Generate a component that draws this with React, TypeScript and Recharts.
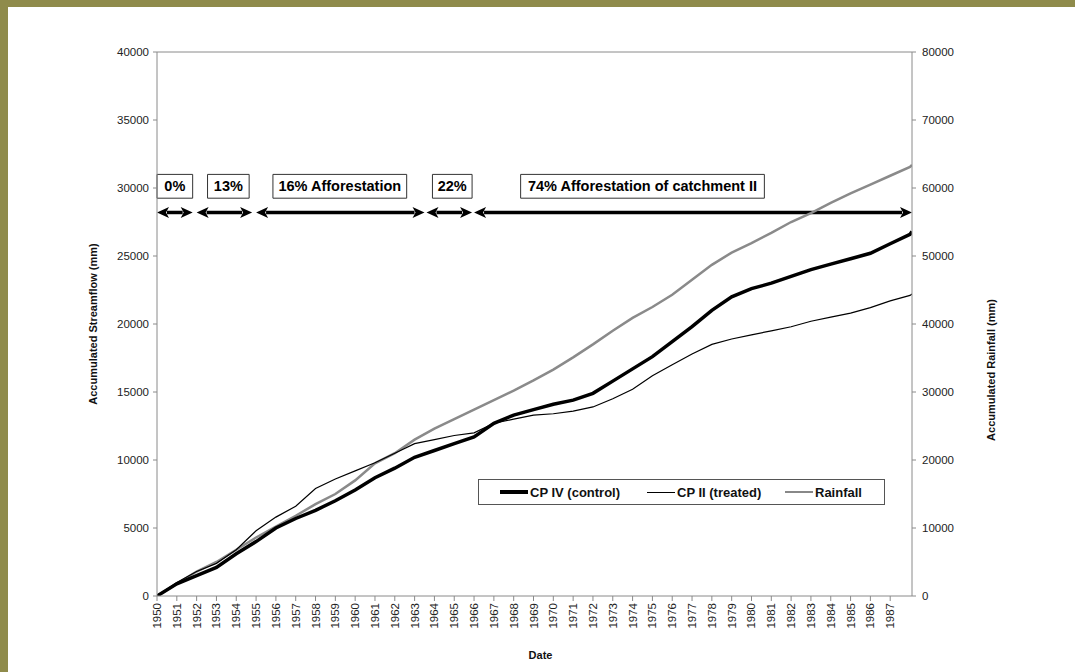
import React from 'react';
import {
  ComposedChart, Line, XAxis, YAxis, ReferenceLine, ReferenceArea, Legend,
} from 'recharts';

// ---- data ----
const YEARS = [1950, 1951, 1952, 1953, 1954, 1955, 1956, 1957, 1958, 1959, 1960, 1961, 1962, 1963, 1964, 1965, 1966, 1967, 1968, 1969, 1970, 1971, 1972, 1973, 1974, 1975, 1976, 1977, 1978, 1979, 1980, 1981, 1982, 1983, 1984, 1985, 1986, 1987, 1988, 1988.1];
const CP_IV = [0, 900, 1500, 2100, 3100, 4000, 5000, 5700, 6300, 7000, 7800, 8700, 9400, 10200, 10700, 11200, 11700, 12700, 13300, 13700, 14100, 14400, 14900, 15800, 16700, 17600, 18700, 19800, 21000, 22000, 22600, 23000, 23500, 24000, 24400, 24800, 25200, 25900, 26600, 26800];
const CP_II = [0, 1000, 1800, 2400, 3400, 4800, 5800, 6600, 7900, 8600, 9200, 9800, 10500, 11200, 11500, 11800, 12000, 12700, 13000, 13300, 13400, 13600, 13900, 14500, 15200, 16200, 17000, 17800, 18500, 18900, 19200, 19500, 19800, 20200, 20500, 20800, 21200, 21700, 22100, 22200];
const RAINFALL = [0, 1800, 3600, 5000, 6800, 8600, 10200, 11800, 13500, 15000, 17000, 19500, 21000, 23000, 24600, 26000, 27400, 28800, 30200, 31700, 33300, 35100, 37000, 39000, 40900, 42500, 44300, 46500, 48700, 50500, 51900, 53400, 55000, 56300, 57800, 59200, 60500, 61800, 63100, 63400];

const X_TICKS = [1950, 1951, 1952, 1953, 1954, 1955, 1956, 1957, 1958, 1959, 1960, 1961, 1962, 1963, 1964, 1965, 1966, 1967, 1968, 1969, 1970, 1971, 1972, 1973, 1974, 1975, 1976, 1977, 1978, 1979, 1980, 1981, 1982, 1983, 1984, 1985, 1986, 1987];
const LEFT_TICKS = [0, 5000, 10000, 15000, 20000, 25000, 30000, 35000, 40000];
const RIGHT_TICKS = [0, 10000, 20000, 30000, 40000, 50000, 60000, 70000, 80000];

// afforestation periods (double arrows) and their label boxes
const PERIOD_START = [1950, 1952.0, 1955.0, 1963.6, 1966.0];
const PERIOD_END = [1951.8, 1954.8, 1963.5, 1965.9, 1988.1];
const PERIOD_LEVEL = 28200;
const PERIOD_LABELS = ['0%', '13%', '16% Afforestation', '22%', '74% Afforestation of catchment II'];
const BOX_START = [1950, 1952.55, 1955.85, 1963.9, 1968.35];
const BOX_END = [1951.8, 1954.65, 1962.6, 1965.9, 1980.65];
const BOX_LOW = 29250;
const BOX_HIGH = 31000;

const data = YEARS.map((year, i) => ({ year, cp4: CP_IV[i], cp2: CP_II[i], rain: RAINFALL[i] }));

const FONT = '"Liberation Sans", Arial, Helvetica, sans-serif';
const AXIS = '#8a8a8a';
const OLIVE = '#8f8b4b';

const XTick = (props: any) => {
  const { x, y, payload } = props;
  return (
    <text x={x} y={y} transform={`rotate(-90 ${x} ${y})`} textAnchor="end" dominantBaseline="central"
      fontFamily={FONT} fontSize={11.5} fill="#222">{payload.value}</text>
  );
};

const ArrowShape = (props: any) => {
  const { x1, y1, x2, y2 } = props;
  const h = 12, w = 5.5;
  return (
    <g>
      <line x1={x1 + h - 2} y1={y1} x2={x2 - h + 2} y2={y2} stroke="#000" strokeWidth={3.5} />
      <polygon points={`${x1},${y1} ${x1 + h},${y1 - w} ${x1 + h - 3},${y1} ${x1 + h},${y1 + w}`} fill="#000" />
      <polygon points={`${x2},${y2} ${x2 - h},${y2 - w} ${x2 - h + 3},${y2} ${x2 - h},${y2 + w}`} fill="#000" />
    </g>
  );
};

const titleStyle = { fontFamily: FONT, fontSize: 11, fontWeight: 'bold' as const, fill: '#111' };

const LeftTitle = (props: any) => {
  const vb = props.viewBox;
  const x = vb.x + vb.width - 64;
  const y = vb.y + 272;
  return <text x={x} y={y} transform={`rotate(-90 ${x} ${y})`} textAnchor="middle" dominantBaseline="central" {...titleStyle}>Accumulated Streamflow (mm)</text>;
};
const RightTitle = (props: any) => {
  const vb = props.viewBox;
  const x = vb.x + 79;
  const y = vb.y + 318;
  return <text x={x} y={y} transform={`rotate(-90 ${x} ${y})`} textAnchor="middle" dominantBaseline="central" {...titleStyle}>Accumulated Rainfall (mm)</text>;
};
const BottomTitle = (props: any) => {
  const vb = props.viewBox;
  return <text x={vb.x + vb.width / 2 + 6} y={vb.y + 59} textAnchor="middle" dominantBaseline="central" {...titleStyle}>Date</text>;
};

const LegendBox = () => {
  const item = (left: number, w: number, color: string, label: string) => (
    <div style={{ position: 'absolute', left, top: 0, height: 24, display: 'flex', alignItems: 'center' }}>
      <div style={{ width: 28, height: 0, borderTop: `${w}px solid ${color}` }} />
      <span style={{ marginLeft: 2 }}>{label}</span>
    </div>
  );
  return (
    <div style={{ position: 'relative', width: 407, height: 26, border: '1px solid #555', boxSizing: 'border-box', background: '#fff', fontFamily: FONT, fontSize: 13, fontWeight: 'bold', color: '#111' }}>
      {item(21, 4, '#000', 'CP IV (control)')}
      {item(168, 1, '#000', 'CP II (treated)')}
      {item(306, 2, '#888', 'Rainfall')}
    </div>
  );
};

export default function App() {
  return (
    <div style={{ position: 'absolute', left: 0, top: 0, width: 1075, height: 672, background: '#fff', overflow: 'hidden' }}>
      <div style={{ position: 'absolute', left: 0, top: 0, width: 1075, height: 7, background: OLIVE }} />
      <div style={{ position: 'absolute', left: 0, top: 0, width: 8, height: 672, background: OLIVE }} />
      <div style={{ position: 'absolute', left: 0, top: 0 }}>
        <ComposedChart width={1075} height={672} data={data} margin={{ top: 52, right: 103, bottom: 26, left: 97 }}>
          <XAxis dataKey="year" type="number" domain={[1950, 1988.1]} ticks={X_TICKS} interval={0}
            allowDataOverflow stroke={AXIS} tickLine={{ stroke: AXIS }} tickSize={5} height={50}
            tick={<XTick />} label={<BottomTitle />} />
          <YAxis yAxisId="left" orientation="left" domain={[0, 40000]} ticks={LEFT_TICKS} width={60}
            stroke={AXIS} tickSize={4} tickMargin={4} allowDataOverflow
            tick={{ fontFamily: FONT, fontSize: 11.5, fill: '#222' }} label={<LeftTitle />} />
          <YAxis yAxisId="right" orientation="right" domain={[0, 80000]} ticks={RIGHT_TICKS} width={60}
            stroke={AXIS} tickSize={4} tickMargin={6} allowDataOverflow
            tick={{ fontFamily: FONT, fontSize: 11.5, fill: '#222' }} label={<RightTitle />} />
          <ReferenceLine yAxisId="left" y={40000} stroke={AXIS} strokeWidth={1} />
          {BOX_START.map((s, i) => (
            <ReferenceArea key={'b' + i} yAxisId="left" x1={s} x2={BOX_END[i]} y1={BOX_LOW} y2={BOX_HIGH}
              fill="#fff" fillOpacity={1} stroke="#333" strokeWidth={1} ifOverflow="visible"
              label={{ value: PERIOD_LABELS[i], position: 'center', fill: '#000', fontSize: 14.5, fontWeight: 'bold', fontFamily: FONT }} />
          ))}
          {PERIOD_START.map((s, i) => (
            <ReferenceLine key={'a' + i} yAxisId="left" ifOverflow="visible"
              segment={[{ x: s, y: PERIOD_LEVEL }, { x: PERIOD_END[i], y: PERIOD_LEVEL }]}
              shape={ArrowShape} />
          ))}
          <Line yAxisId="right" dataKey="rain" stroke="#8a8a8a" strokeWidth={2.5} dot={false} isAnimationActive={false} type="linear" />
          <Line yAxisId="left" dataKey="cp2" stroke="#000" strokeWidth={1.2} dot={false} isAnimationActive={false} type="linear" />
          <Line yAxisId="left" dataKey="cp4" stroke="#000" strokeWidth={3.5} dot={false} isAnimationActive={false} type="linear" />
          <Legend layout="horizontal" verticalAlign="middle" align="center" content={<LegendBox />}
            wrapperStyle={{ position: 'absolute', left: 478, top: 479, width: 407, height: 26 }} />
        </ComposedChart>
      </div>
    </div>
  );
}
